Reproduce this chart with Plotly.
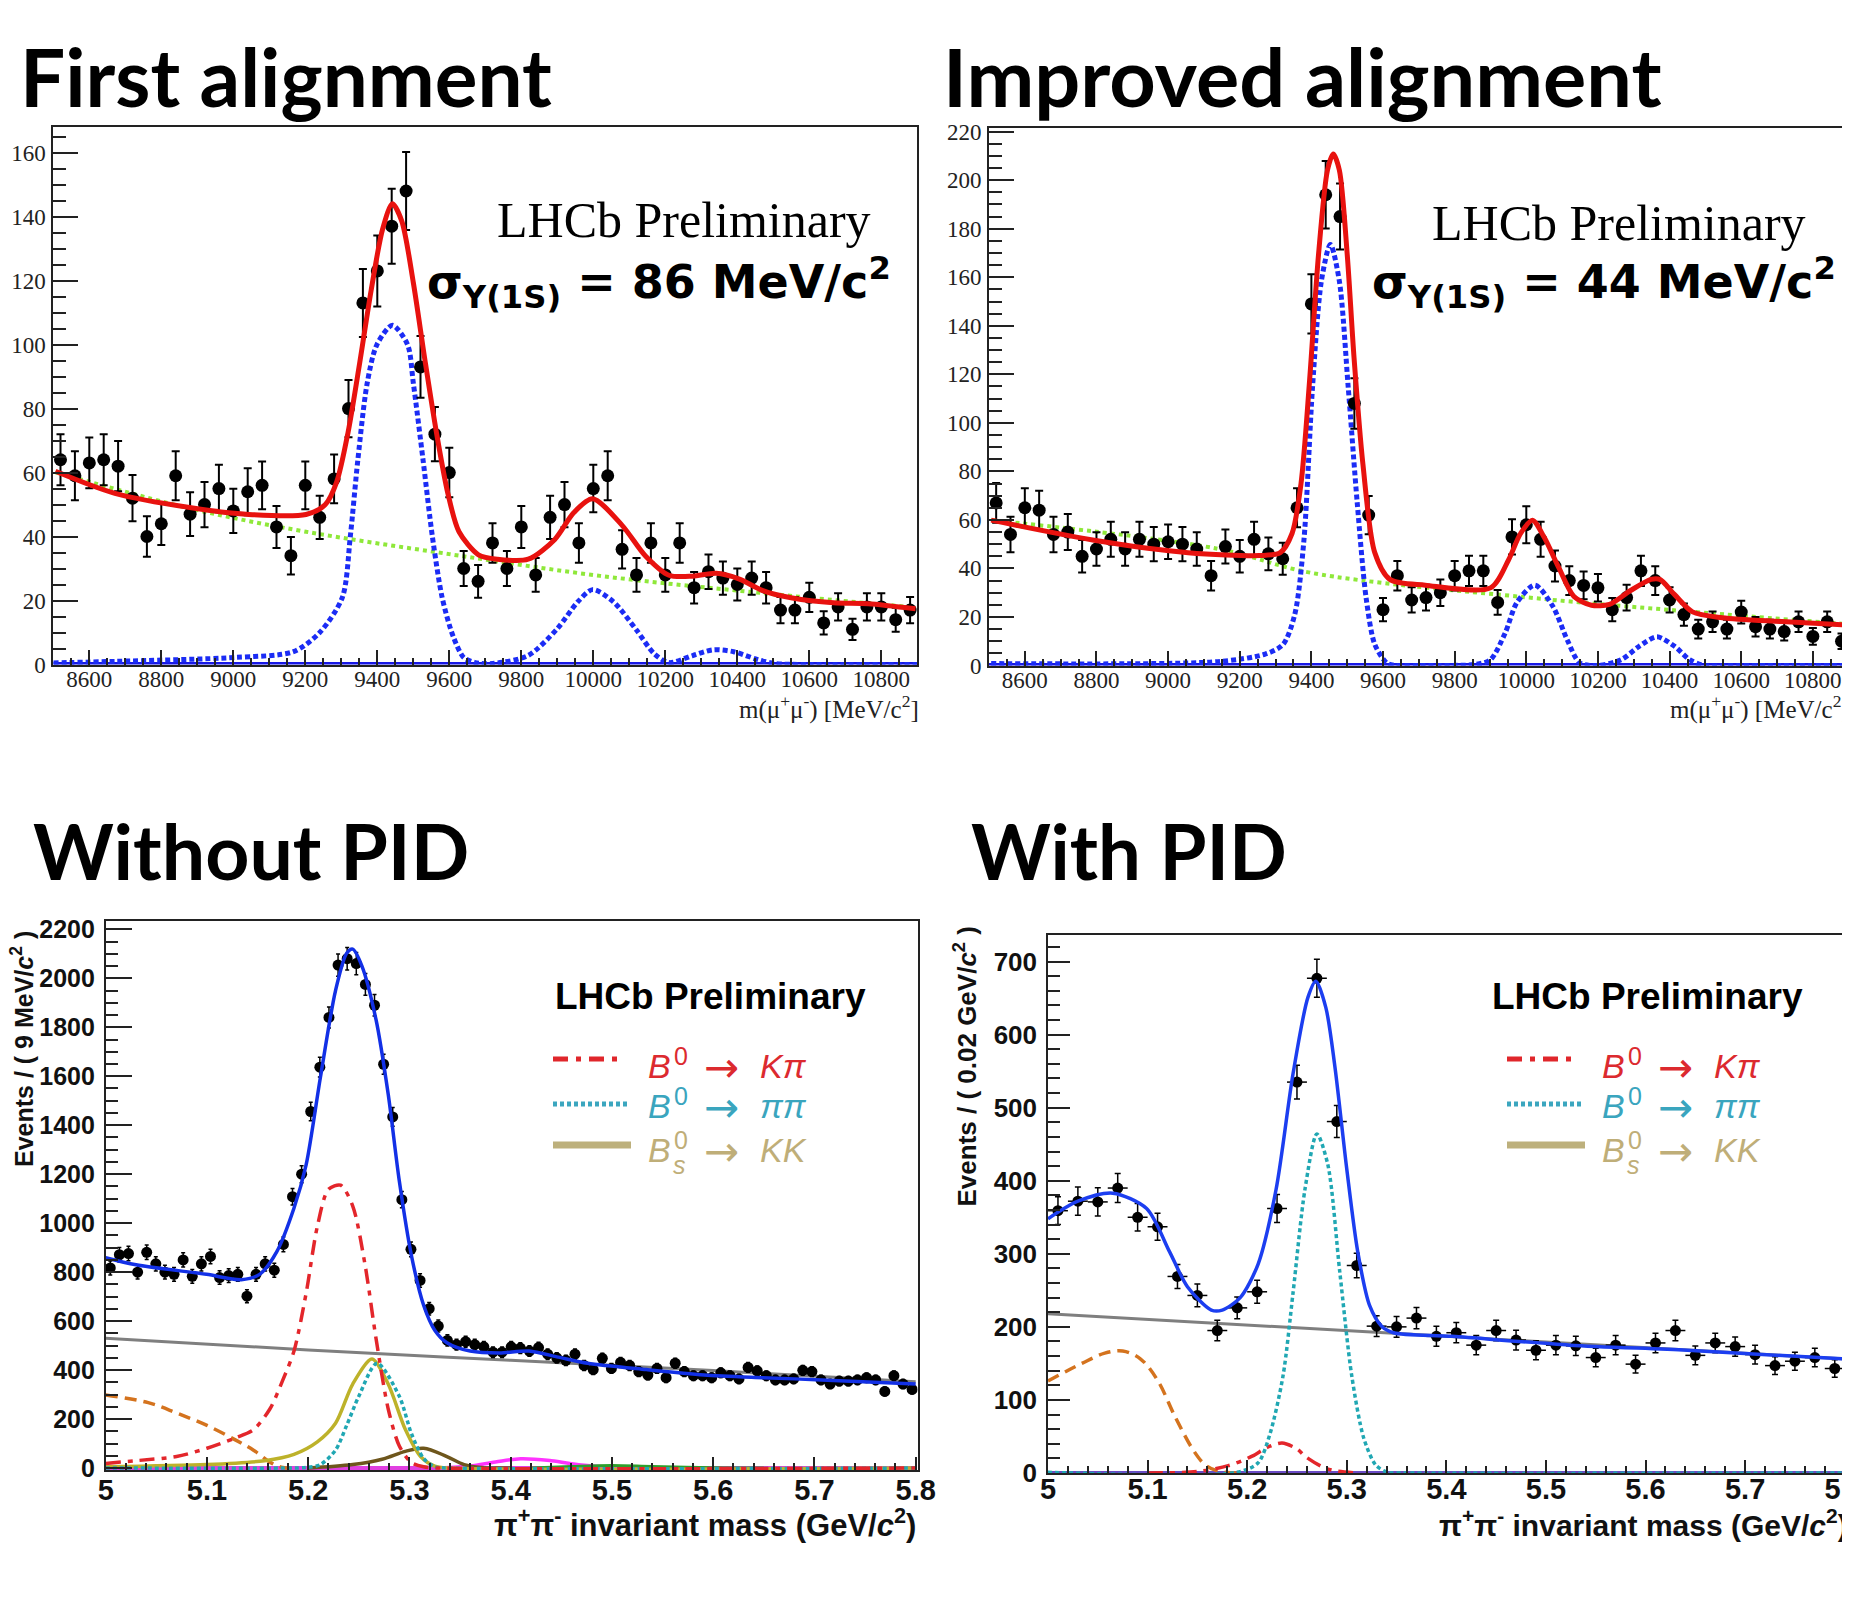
import plotly.graph_objects as go

W, H = 1850, 1618
# the page body adds an 8px margin; positions below are in page pixels
OFF = 8

# ---------------- Top-left: First alignment ----------------
tl_edge0, tl_binw = 8500, 40
tl_counts = [64, 59, 63, 64, 62, 52, 40, 44, 59, 47, 50, 55, 48, 54, 56, 43, 34, 56, 46, 58,
             80, 113, 123, 137, 148, 93, 72, 60, 30, 26, 38, 30, 43, 28, 46, 50, 38, 55, 59, 36,
             28, 38, 28, 38, 24, 29, 27, 25, 27, 24, 17, 17, 21, 13, 18, 11, 18, 18, 14, 17]
tl_total_x = [8506, 8671, 8883, 9043, 9202, 9255, 9287, 9319, 9351, 9383, 9415, 9442, 9468, 9500,
              9532, 9564, 9596, 9627, 9681, 9734, 9819, 9893, 9946, 9998, 10080, 10145, 10210,
              10276, 10341, 10406, 10471, 10553, 10667, 10764, 10895]
tl_total_y = [60.4, 53.5, 49, 46.9, 46.9, 49.9, 57, 72.7, 94.2, 117, 136.2, 144, 138.6, 119.4,
              95.4, 72.7, 53.5, 41.5, 34.3, 32.9, 32.9, 39.1, 47.5, 51.8, 43.5, 33.9, 27.9,
              27.6, 28.5, 26.7, 23.1, 20.8, 19.3, 19, 17.4]
tl_sig_x = [8500, 8678, 9004, 9167, 9240, 9303, 9325, 9346, 9372, 9399, 9442, 9484, 9500, 9527,
            9553, 9580, 9610, 9640, 9672, 9720, 9819, 9900, 9957, 9998, 10056, 10121, 10169,
            10210, 10276, 10333, 10390, 10455, 10504, 10600, 10900]
tl_sig_y = [0.5, 1, 2.2, 4, 10, 21, 40, 64, 88, 100, 106, 100, 88, 64, 40, 21, 9, 2.2, 0.6, 0.3,
            2.8, 11.2, 19.6, 23.4, 19.6, 10.6, 3.4, 0.6, 2.8, 4.6, 4, 1.6, 0.3, 0, 0]
tl_bkg_x = [8506, 8883, 9202, 9600, 10019, 10471, 10895]
tl_bkg_y = [60.1, 48.7, 41.5, 34.5, 27.7, 22.3, 17.8]
tl_zero_x = [8500, 10900]
tl_zero_y = [0, 0]

# ---------------- Top-right: Improved alignment ----------------
tr_edge0, tr_binw = 8500, 40
tr_counts = [67, 54, 65, 64, 54, 55, 45, 48, 52, 48, 52, 50, 51, 50, 48, 37, 49, 45, 52, 46,
             44, 65, 149, 194, 185, 108, 62, 23, 37, 27, 28, 30, 37, 39, 39, 26, 53, 58, 52, 41,
             35, 33, 32, 23, 28, 39, 35, 27, 21, 15, 18, 15, 22, 16, 15, 14, 18, 12, 18, 10]
tr_total_x = [8506, 8807, 9056, 9255, 9313, 9346, 9371, 9395, 9420, 9445, 9461, 9478, 9500, 9519,
              9544, 9577, 9619, 9718, 9900, 9950, 9984, 10017, 10050, 10091, 10133, 10182, 10232,
              10290, 10348, 10373, 10414, 10464, 10547, 10713, 10908]
tr_total_y = [59.9, 51.3, 46.5, 45.3, 46.5, 54.4, 74.9, 117.5, 169.5, 204.2, 210.8, 204.2, 169.5,
              127, 82.8, 46.5, 35.5, 33.1, 32, 43.4, 54.4, 59.9, 52.8, 40.2, 28.4, 24.8, 25.2,
              30.8, 35.5, 35.5, 29.2, 22.1, 19.7, 18.1, 16.6]
tr_sig_x = [8506, 9139, 9271, 9321, 9354, 9379, 9403, 9428, 9453, 9478, 9503, 9528, 9553, 9577,
            9610, 9635, 9700, 9860, 9900, 9941, 9974, 10024, 10074, 10115, 10149, 10199, 10265,
            10315, 10365, 10414, 10456, 10497, 10600, 10908]
tr_sig_y = [0.8, 1.6, 4.7, 8.7, 21.3, 51.3, 114.3, 158.5, 173.5, 158.5, 114.3, 67, 27.6, 8.7,
            1.1, 0, 0, 0.5, 2.4, 13.4, 26, 33.1, 24.4, 10.3, 1.1, 0, 2.4, 7.9, 11.8, 7.9, 2.4,
            0, 0, 0]
tr_bkg_x = [8506, 9139, 9399, 10000, 10401, 10908]
tr_bkg_y = [59.9, 48.1, 38.2, 28.1, 22.9, 16.9]
tr_zero_x = [8500, 10926]
tr_zero_y = [0, 0]

# ---------------- Bottom-left: Without PID ----------------
bl_edge0, bl_binw = 5.0, 0.009
bl_counts = [817, 871, 876, 800, 881, 834, 800, 791, 850, 783,
             834, 864, 778, 786, 791, 702, 791, 834, 808, 913,
             1108, 1200, 1456, 1637, 1840, 2054, 2080, 2060, 1975, 1890,
             1649, 1434, 1096, 893, 766, 651, 580, 521, 504, 516,
             504, 495, 473, 473, 495, 490, 478, 492, 465, 450,
             440, 465, 419, 402, 448, 407, 431, 419, 394, 380,
             407, 369, 428, 394, 377, 377, 369, 389, 377, 364,
             411, 397, 377, 360, 360, 364, 399, 394, 360, 343,
             355, 355, 360, 369, 360, 313, 377, 343, 321]
bl_total_x = [5.0, 5.03, 5.0995, 5.134, 5.152, 5.169, 5.186, 5.198, 5.212, 5.227, 5.238, 5.244,
              5.253, 5.267, 5.279, 5.290, 5.302, 5.314, 5.325, 5.337, 5.360, 5.389, 5.418, 5.447,
              5.476, 5.534, 5.591, 5.649, 5.707, 5.80]
bl_total_y = [859, 830, 791, 769, 791, 884, 1062, 1239, 1594, 1950, 2102, 2119, 2051, 1831, 1527,
              1172, 867, 665, 563, 512, 478, 470, 478, 453, 428, 402, 380, 369, 360, 343]
bl_comb_x = [5.0, 5.2, 5.4, 5.6, 5.8]
bl_comb_y = [530, 482, 440, 398, 352]
bl_kpi_x = [5.0, 5.03, 5.07, 5.1, 5.128, 5.146, 5.162, 5.175, 5.186, 5.198, 5.209, 5.22, 5.232,
            5.244, 5.256, 5.267, 5.279, 5.29, 5.302, 5.314, 5.33, 5.8]
bl_kpi_y = [19, 30, 47, 81, 123, 157, 240, 360, 478, 715, 986, 1138, 1155, 1070, 834, 529, 242,
            90, 22, 5, 0, 0]
bl_pipi_x = [5.0, 5.18, 5.198, 5.212, 5.227, 5.238, 5.25, 5.268, 5.29, 5.302, 5.314, 5.325, 5.34, 5.8]
bl_pipi_y = [0, 0, 2, 14, 73, 174, 293, 428, 293, 140, 39, 5, 0, 0]
bl_kk_x = [5.0, 5.1, 5.157, 5.186, 5.209, 5.227, 5.244, 5.263, 5.279, 5.296, 5.311, 5.325, 5.34, 5.8]
bl_kk_y = [5, 14, 30, 56, 107, 183, 343, 445, 343, 157, 47, 8, 0, 0]
bl_brown_x = [5.2, 5.244, 5.273, 5.296, 5.314, 5.337, 5.354, 5.371, 5.4]
bl_brown_y = [0, 14, 36, 68, 81, 47, 14, 2, 0]
bl_mag_x = [5.33, 5.36, 5.385, 5.41, 5.44, 5.47, 5.5, 5.55]
bl_mag_y = [0, 8, 25, 38, 30, 12, 3, 0]
bl_grn_x = [5.42, 5.46, 5.5, 5.54, 5.6, 5.65]
bl_grn_y = [0, 6, 10, 6, 1, 0]
bl_orange_x = [5.0, 5.042, 5.07, 5.1, 5.128, 5.146, 5.163, 5.175, 5.19]
bl_orange_y = [298, 267, 225, 174, 115, 73, 22, 2, 0]
bl_zero_x = [5.0, 5.8]
bl_zero_y = [0, 0]

# ---------------- Bottom-right: With PID ----------------
br_edge0, br_binw = 5.0, 0.02
br_counts = [359, 372, 371, 390, 350, 337, 269, 243, 195, 226,
             248, 362, 535, 677, 481, 284, 201, 200, 212, 187,
             192, 175, 195, 182, 168, 175, 174, 158, 175, 149,
             178, 195, 161, 178, 173, 162, 147, 153, 158, 143]
br_total_x = [5.0, 5.03, 5.065, 5.099, 5.122, 5.14, 5.164, 5.175, 5.193, 5.211, 5.229, 5.246,
              5.261, 5.269, 5.279, 5.288, 5.3, 5.311, 5.323, 5.335, 5.347, 5.406, 5.524, 5.642, 5.8]
br_total_y = [348, 372, 383, 362, 303, 255, 223, 223, 240, 286, 388, 546, 651, 673, 637, 557,
              416, 303, 229, 201, 192, 187, 175, 168, 156]
br_comb_x = [5.0, 5.4, 5.8]
br_comb_y = [218, 187, 156]
br_pipi_x = [5.0, 5.19, 5.211, 5.223, 5.236, 5.246, 5.258, 5.27, 5.281, 5.293, 5.305, 5.317,
             5.329, 5.341, 5.36, 5.8]
br_pipi_y = [1, 1, 14, 54, 133, 246, 388, 464, 422, 275, 133, 48, 11, 1, 0, 0]
br_kpi_x = [5.1, 5.15, 5.181, 5.205, 5.22, 5.235, 5.25, 5.258, 5.276, 5.288, 5.31]
br_kpi_y = [0, 2, 10, 23, 35, 41, 33, 23, 8, 3, 0]
br_orange_x = [5.0, 5.034, 5.057, 5.075, 5.093, 5.11, 5.128, 5.146, 5.158, 5.17, 5.19]
br_orange_y = [126, 150, 164, 167, 156, 127, 76, 31, 11, 3, 0]
br_zero_x = [5.0, 5.8]
br_zero_y = [0, 0]


def centers(edge0, w, n):
    return [edge0 + w * (i + 0.5) for i in range(n)]


def px(x):
    return min(1.0, max(0.0, (x - OFF) / W))


def py(y):
    return min(1.0, max(0.0, 1 - (y - OFF) / H))


fig = go.Figure()


def line(x, y, color, width, dash='solid', xa='x', ya='y', smooth=1.0):
    fig.add_trace(go.Scatter(x=x, y=y, mode='lines', xaxis=xa, yaxis=ya, hoverinfo='skip',
                             line=dict(color=color, width=width, dash=dash, shape='spline',
                                       smoothing=smooth)))


def points(x, y, size, xa, ya, xerr=None, capw=4, thick=2):
    kw = {}
    if xerr is not None:
        kw['error_x'] = dict(type='constant', value=xerr, color='black', thickness=thick, width=0)
    fig.add_trace(go.Scatter(x=x, y=y, mode='markers', xaxis=xa, yaxis=ya,
                             marker=dict(color='black', size=size),
                             error_y=dict(type='sqrt', color='black', thickness=thick, width=capw),
                             **kw))


RED = '#e8120f'
BLUE_DOT = '#1b2cf5'
GREEN = '#8fe83a'

# TL
line(tl_zero_x, tl_zero_y, '#1818e6', 5, 'solid', 'x', 'y')
line(tl_bkg_x, tl_bkg_y, GREEN, 4, '4px,4px', 'x', 'y')
line(tl_sig_x, tl_sig_y, BLUE_DOT, 5, '5px,3px', 'x', 'y', 0.8)
points(centers(tl_edge0, tl_binw, len(tl_counts)), tl_counts, 13, 'x', 'y')
line(tl_total_x, tl_total_y, RED, 5, 'solid', 'x', 'y', 0.8)

# TR
line(tr_zero_x, tr_zero_y, '#1818e6', 5, 'solid', 'x2', 'y2')
line(tr_bkg_x, tr_bkg_y, GREEN, 4, '4px,4px', 'x2', 'y2')
line(tr_sig_x, tr_sig_y, BLUE_DOT, 5, '5px,3px', 'x2', 'y2', 0.8)
points(centers(tr_edge0, tr_binw, len(tr_counts)), tr_counts, 13, 'x2', 'y2')
line(tr_total_x, tr_total_y, RED, 5, 'solid', 'x2', 'y2', 0.8)

# BL
line(bl_zero_x, bl_zero_y, '#e040e0', 4, 'solid', 'x3', 'y3')
line(bl_comb_x, bl_comb_y, '#7f7f7f', 3, 'solid', 'x3', 'y3')
line(bl_orange_x, bl_orange_y, '#d4731e', 3.5, '12px,7px', 'x3', 'y3')
line(bl_mag_x, bl_mag_y, '#ff33ff', 3.5, 'solid', 'x3', 'y3')
line(bl_grn_x, bl_grn_y, '#2ca02c', 3, 'solid', 'x3', 'y3')
line(bl_brown_x, bl_brown_y, '#6e561c', 3.5, 'solid', 'x3', 'y3')
line(bl_kk_x, bl_kk_y, '#bdb22a', 3.5, 'solid', 'x3', 'y3', 0.8)
line(bl_pipi_x, bl_pipi_y, '#20a7b3', 3.5, '4px,3px', 'x3', 'y3', 0.8)
line(bl_kpi_x, bl_kpi_y, '#e3262b', 3.5, '15px,7px,5px,7px', 'x3', 'y3', 0.8)
points(centers(bl_edge0, bl_binw, len(bl_counts)), bl_counts, 11, 'x3', 'y3',
       xerr=bl_binw / 2, capw=2, thick=1.5)
line(bl_total_x, bl_total_y, '#1230e6', 3.5, 'solid', 'x3', 'y3', 0.8)

# BR
line(br_zero_x, br_zero_y, '#6a4bc4', 4, 'solid', 'x4', 'y4')
line(br_comb_x, br_comb_y, '#7f7f7f', 3, 'solid', 'x4', 'y4')
line(br_orange_x, br_orange_y, '#d4731e', 3.5, '12px,7px', 'x4', 'y4')
line(br_kpi_x, br_kpi_y, '#e3262b', 3.5, '15px,7px,5px,7px', 'x4', 'y4', 0.8)
line(br_pipi_x, br_pipi_y, '#20a7b3', 3.5, '4px,3px', 'x4', 'y4', 0.8)
points(centers(br_edge0, br_binw, len(br_counts)), br_counts, 11, 'x4', 'y4',
       xerr=br_binw / 2, capw=3, thick=1.5)
line(br_total_x, br_total_y, '#1c3ef0', 3.5, 'solid', 'x4', 'y4', 0.8)

AXC = '#222222'


def axis(domain, rng, dtick, ticklen, mdtick, mlen, font, anchor, mirror=True, fmt=None, lw=2,
         standoff=4):
    d = dict(domain=domain, range=rng, anchor=anchor, showline=True, linecolor=AXC, linewidth=lw,
             mirror=mirror, ticks='inside', ticklen=ticklen, tickwidth=2, tickcolor=AXC,
             dtick=dtick, tick0=0, showgrid=False, zeroline=False, tickfont=font,
             ticklabelstandoff=standoff, automargin=False, ticklabeloverflow='allow',
             minor=dict(dtick=mdtick, ticklen=mlen, ticks='inside', tickwidth=2,
                        tickcolor=AXC, showgrid=False))
    if fmt:
        d['tickformat'] = fmt
    return d


serif_tick = dict(family='Liberation Serif', size=23, color='#222')
sans_x3 = dict(family='Liberation Sans', size=29, color='#111', weight='bold')
sans_y3 = dict(family='Liberation Sans', size=25, color='#111', weight='bold')
sans_x4 = dict(family='Liberation Sans', size=29, color='#111', weight='bold')
sans_y4 = dict(family='Liberation Sans', size=26, color='#111', weight='bold')

fig.update_layout(
    width=W, height=H, margin=dict(l=0, r=0, t=0, b=0, pad=0, autoexpand=False),
    paper_bgcolor='white', plot_bgcolor='white', showlegend=False,
    xaxis=axis([px(53.3), px(917.3)], [8500, 10900], 200, 15, 50, 7, serif_tick, 'y', fmt='d',
               standoff=-7),
    yaxis=axis([py(664.5), py(127)], [0, 168], 20, 25, 5, 13, serif_tick, 'x', standoff=1),
    xaxis2=axis([px(989), 1.0], [8500, 10926], 200, 15, 50, 7, serif_tick, 'y2', fmt='d',
                standoff=-7),
    yaxis2=axis([py(665.5), py(128)], [0, 221.5], 20, 25, 5, 13, serif_tick, 'x2', mirror=False,
                standoff=1),
    xaxis3=axis([px(105.7), px(917.7)], [5.0, 5.802], 0.1, 13, 0.02, 7, sans_x3, 'y3', lw=1.5,
                standoff=-7),
    yaxis3=axis([py(1470), py(921)], [-8, 2234], 200, 27, 50, 13, sans_y3, 'x3', lw=1.5),
    xaxis4=axis([px(1048), px(1846.7)], [5.0, 5.802], 0.1, 13, 0.02, 7, sans_x4, 'y4', lw=1.5,
                standoff=-11),
    yaxis4=axis([py(1473), py(934.5)], [0, 737], 100, 22, 20, 12, sans_y4, 'x4', lw=1.5),
)

anns = []


def ann(text, x, y, size, family, color='black', xanchor='left', weight='normal',
        style='normal', angle=0):
    anns.append(dict(text=text, x=(x - OFF) / W, y=1 - (y - OFF) / H, xref='paper',
                     yref='paper', xanchor=xanchor,
                     yanchor='middle', showarrow=False, textangle=angle,
                     font=dict(size=size, family=family, color=color, weight=weight, style=style)))


# panel titles
ann('First alignment', 18, 76, 80, 'Lato', weight='bold')
ann('Improved alignment', 941, 76, 81, 'Lato', weight='bold')
ann('Without PID', 31, 850, 77, 'Lato', weight='bold')
ann('With PID', 969, 850, 76, 'Lato', weight='bold')

# top annotations
ann('LHCb Preliminary', 494.6, 219.6, 50, 'Liberation Serif')
ann('LHCb Preliminary', 1430.4, 223, 50, 'Liberation Serif')
ann('σ<sub>Υ(1S)</sub> = 86 MeV/c<sup>2</sup>', 425, 282, 46, 'DejaVu Sans', weight='bold')
ann('σ<sub>Υ(1S)</sub> = 44 MeV/c<sup>2</sup>', 1370, 282.5, 46, 'DejaVu Sans', weight='bold')

# axis titles top
ann('m(μ<sup>+</sup>μ<sup>-</sup>) [MeV/c<sup>2</sup>]', 921, 708, 25, 'Liberation Serif',
    color='#222', xanchor='right')
ann('m(μ<sup>+</sup>μ<sup>-</sup>) [MeV/c<sup>2</sup>]', 1852, 708, 25, 'Liberation Serif',
    color='#222', xanchor='right')

# axis titles bottom
ann('π<sup>+</sup>π<sup>-</sup> invariant mass (GeV/<i>c</i><sup>2</sup>)', 918, 1523, 31,
    'Liberation Sans', color='#111', xanchor='right', weight='bold')
ann('π<sup>+</sup>π<sup>-</sup> invariant mass (GeV/<i>c</i><sup>2</sup>)', 1850, 1523, 30,
    'Liberation Sans', color='#111', xanchor='right', weight='bold')
ann('Events / ( 9 MeV/<i>c</i><sup>2</sup> )', 22, 1049, 25, 'Liberation Sans', color='#111',
    xanchor='center', weight='bold', angle=-90)
ann('Events / ( 0.02 GeV/<i>c</i><sup>2</sup> )', 966, 1066.5, 26, 'Liberation Sans',
    color='#111', xanchor='center', weight='bold', angle=-90)

# legends bottom panels
C_KPI, C_PIPI, C_KK = '#dc2a2f', '#3aa5be', '#bfae78'
shapes = []
for (lhcb_x, lx0, tx) in [(553, 553, 646), (1490, 1507, 1600)]:
    ann('LHCb Preliminary', lhcb_x, 996, 37, 'Liberation Sans', color='black', weight='bold')
    shapes.append(dict(type='line', xref='paper', yref='paper', x0=px(lx0), x1=px(lx0 + 72),
                       y0=py(1059), y1=py(1059), line=dict(color='#e0262b', width=5,
                                                           dash='15px,8px,5px,8px')))
    shapes.append(dict(type='line', xref='paper', yref='paper', x0=px(lx0), x1=px(lx0 + 76),
                       y0=py(1104), y1=py(1104), line=dict(color='#3ba6bf', width=5,
                                                           dash='4px,3px')))
    shapes.append(dict(type='line', xref='paper', yref='paper', x0=px(lx0), x1=px(lx0 + 78),
                       y0=py(1145), y1=py(1145), line=dict(color='#bdb07c', width=7)))
    rows = [(1066, C_KPI, 'Kπ', None), (1106, C_PIPI, 'ππ', None), (1150, C_KK, 'KK', 's')]
    for (ry, col, prod, sub) in rows:
        ann('B', tx, ry, 34, 'Liberation Sans', color=col, style='italic')
        ann('0', tx + 26, ry - 10, 25, 'Liberation Sans', color=col)
        if sub:
            ann('s', tx + 25, ry + 15, 25, 'Liberation Sans', color=col, style='italic')
        ann('→', tx + 56, ry + 1, 42, 'DejaVu Sans', color=col)
        ann(prod, tx + 112, ry, 34, 'Liberation Sans', color=col, style='italic')

fig.update_layout(annotations=anns, shapes=shapes)
fig.write_html('out.html')
